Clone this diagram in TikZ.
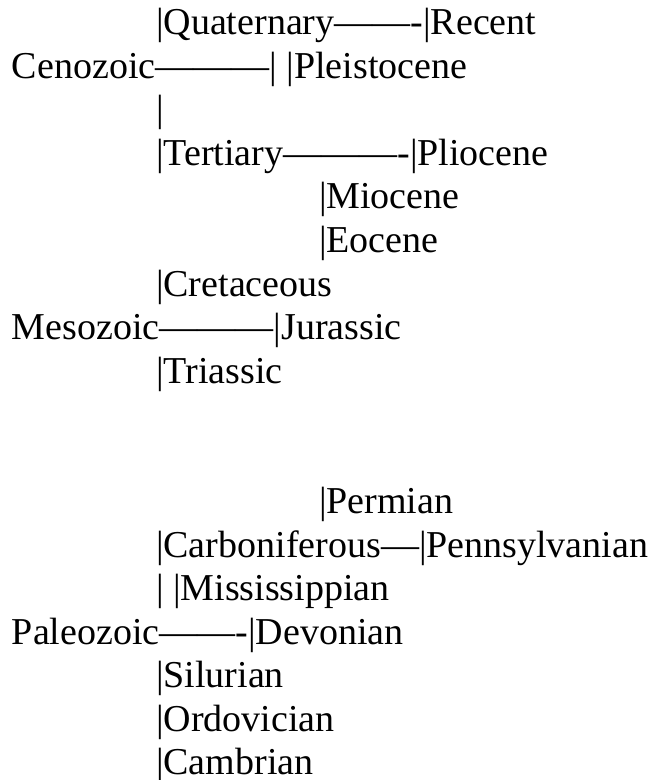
\documentclass[tikz,border=0pt]{standalone}
\usepackage{fontspec}
\setmainfont{Liberation Serif}

\tikzset{
  txt/.style={anchor=base west, inner sep=0pt, outer sep=0pt,
    font=\fontsize{28.5pt}{32.6pt}\selectfont},
}

\begin{document}
\begin{tikzpicture}[x=0.75pt, y=-0.75pt]

    % page frame
    \useasboundingbox (0,0) rectangle (656,780);

    % Cenozoic
    \node[txt] (quaternary)  at (156, 35.0) {|Quaternary——-|Recent};
    \node[txt] (cenozoic)    at (12,  78.5) {Cenozoic———| |Pleistocene};
    \node[txt] (cenobar)     at (156, 122.0) {|};
    \node[txt] (tertiary)    at (156, 165.5) {|Tertiary———-|Pliocene};
    \node[txt] (miocene)     at (319, 209.0) {|Miocene};
    \node[txt] (eocene)      at (319, 252.5) {|Eocene};

    % Mesozoic
    \node[txt] (cretaceous)  at (156, 296.0) {|Cretaceous};
    \node[txt] (mesozoic)    at (12,  339.5) {Mesozoic———|Jurassic};
    \node[txt] (triassic)    at (156, 383.0) {|Triassic};

    % Paleozoic
    \node[txt] (permian)     at (319, 513.5) {|Permian};
    \node[txt] (carbon)      at (156, 557.0) {|Carboniferous—|Pennsylvanian};
    \node[txt] (mississ)     at (156, 600.5) {| |Mississippian};
    \node[txt] (paleozoic)   at (12,  644.0) {Paleozoic——-|Devonian};
    \node[txt] (silurian)    at (156, 687.5) {|Silurian};
    \node[txt] (ordovician)  at (156, 731.0) {|Ordovician};
    \node[txt] (cambrian)    at (156, 774.5) {|Cambrian};

\end{tikzpicture}
\end{document}
